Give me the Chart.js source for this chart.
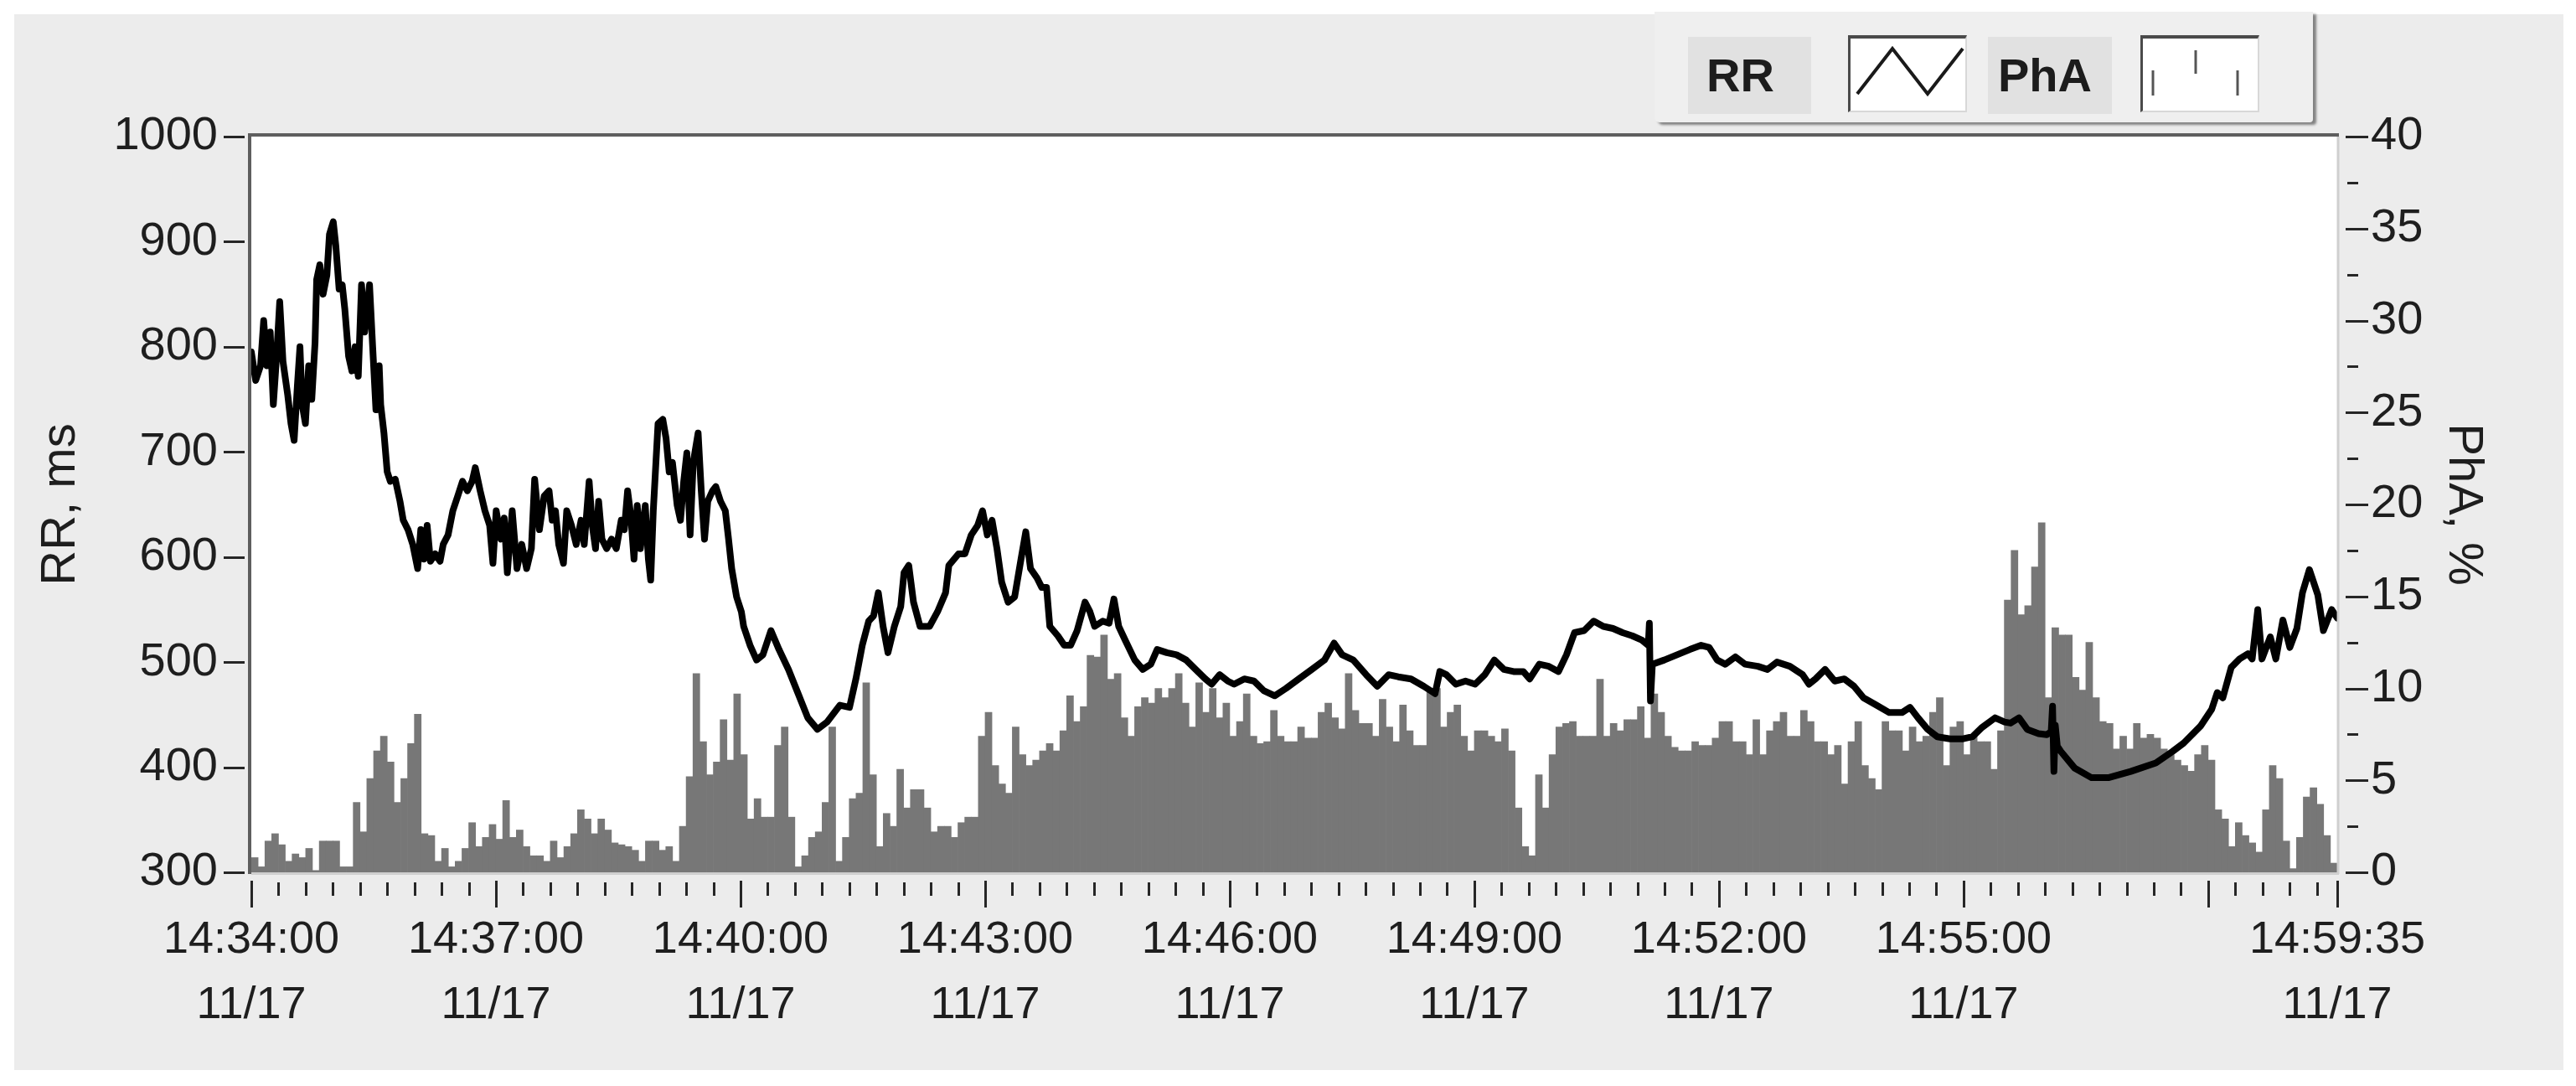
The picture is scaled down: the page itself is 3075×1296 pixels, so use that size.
<!DOCTYPE html>
<html>
<head>
<meta charset="utf-8">
<script src="https://cdn.jsdelivr.net/npm/chart.js@4.4.1/dist/chart.umd.min.js"></script>
<style>
  html, body { margin:0; padding:0; background:#ffffff; }
  #wrap { position:relative; width:3075px; height:1296px; overflow:hidden; }
  #panel { position:absolute; left:17px; top:17px; width:3043px; height:1260px; background:#ececec; }
  #c { position:absolute; left:0; top:0; }
  #legend { position:absolute; left:1975px; top:14px; width:786px; height:132px; background:#efefef;
            box-shadow: 4px 3px 3px rgba(0,0,0,0.45); border-radius:0 0 4px 6px; }
  .lab { position:absolute; top:30px; height:92px; background:#e1e1e1; color:#1c1c1c;
         font: 600 56px 'Liberation Sans',Arial,sans-serif; line-height:92px; }
  .icon { position:absolute; top:28px; width:142px; height:92px; background:#ffffff;
          border-top:4px solid #4a4a4a; border-left:3px solid #4a4a4a; border-bottom:2px solid #d8d8d8; border-right:2px solid #d8d8d8; box-sizing:border-box; }
  .icon svg { position:absolute; left:0; top:0; }
</style>
</head>
<body>
<div id="wrap">
  <div id="panel"></div>
  <canvas id="c" width="3075" height="1296"></canvas>
  <div id="legend">
    <div class="lab" style="left:40px;width:147px;"><span style="position:absolute;left:22px;">RR</span></div>
    <div class="icon" style="left:231px;">
      <svg width="142" height="92"><polyline points="8,66 50,12 92,66 134,12" fill="none" stroke="#1a1a1a" stroke-width="4"/></svg>
    </div>
    <div class="lab" style="left:398px;width:148px;"><span style="position:absolute;left:12px;">PhA</span></div>
    <div class="icon" style="left:580px;">
      <svg width="142" height="92"><g stroke="#555" stroke-width="3"><line x1="12" y1="38" x2="12" y2="68"/><line x1="63" y1="14" x2="63" y2="42"/><line x1="113" y1="38" x2="113" y2="68"/></g></svg>
    </div>
  </div>
</div>
<script>
// ---------------- DATA ----------------
// RR interval line: seconds after 14:34:00 and value in ms
const rrSeconds = [0,3.2,6.8,9.1,11.5,13.9,16.2,18.6,20.9,23.3,26.8,29.2,31.5,33.9,35.8,37.4,39.8,42.2,44.5,46.9,48.1,50.4,52.8,55.6,57.5,60.3,62.2,64.6,66.9,68.8,71.6,74.0,76.4,78.7,81.1,83.4,87.0,89.3,91.7,94.1,95.2,97.6,100.0,102.3,105.9,109.4,111.8,115.3,118.8,122.4,124.7,127.1,129.4,131.8,135.3,138.9,141.2,144.8,148.3,151.9,155.4,159.0,162.5,164.8,168.4,171.9,175.4,177.8,180.2,183.7,186.1,188.4,192.0,195.5,199.0,202.6,206.1,208.5,212.0,215.5,219.1,221.4,223.8,226.2,229.7,232.1,235.6,239.1,242.7,245.0,248.6,250.9,253.3,255.6,258.0,261.5,265.1,268.6,272.2,274.5,276.9,279.2,281.6,284.0,286.3,289.9,292.2,293.9,295.8,299.3,302.8,305.2,307.5,309.9,313.4,315.8,318.2,320.5,322.9,325.2,328.8,331.1,333.5,335.9,339.4,341.8,345.3,348.8,351.2,353.5,357.1,360.6,362.3,367.0,371.8,376.5,382.4,388.3,395.3,402.4,409.5,416.6,423.7,433.1,440.2,444.9,449.6,454.3,457.9,461.4,464.9,468.5,473.2,477.9,480.3,483.8,487.3,492.1,499.1,505.0,510.9,513.3,520.4,525.1,529.8,534.5,538.1,541.6,545.1,548.7,552.2,556.9,561.7,566.4,569.9,573.4,578.2,581.7,585.2,587.6,593.5,598.2,602.9,607.7,613.5,617.1,620.6,626.5,631.2,634.8,638.3,643.0,650.1,656.0,661.9,666.6,673.7,680.8,687.9,694.9,702.0,706.7,712.6,718.5,723.2,730.7,737.8,744.9,753.1,761.4,770.8,780.3,789.7,796.8,802.7,810.9,820.4,828.6,836.9,844.0,853.4,862.8,871.1,874.6,879.4,886.4,893.5,900.6,907.7,914.7,921.8,928.9,936.0,940.7,947.8,954.8,961.9,967.8,973.7,980.8,987.9,994.9,1002.0,1009.1,1016.2,1023.3,1028.0,1028.8,1029.6,1031.0,1039.8,1049.2,1058.6,1066.9,1072.8,1078.7,1084.6,1092.1,1099.2,1108.6,1115.7,1122.7,1132.2,1141.6,1146.3,1151.1,1158.1,1165.2,1172.3,1179.4,1186.4,1195.9,1205.3,1214.7,1220.6,1226.5,1233.6,1240.7,1250.1,1259.6,1266.6,1273.7,1283.2,1290.2,1294.6,1300.8,1306.9,1315.2,1321.3,1324.5,1325.5,1326.5,1327.5,1329.0,1331.6,1341.9,1354.2,1366.5,1383.0,1401.5,1413.8,1422.0,1434.3,1442.6,1446.7,1450.8,1457.0,1463.1,1469.3,1472.4,1476.5,1479.6,1485.7,1489.8,1495.0,1500.1,1505.3,1509.4,1514.5,1520.7,1524.8,1530.9,1535.0];
const rrValues = [795,768,782,825,782,814,745,791,843,786,754,727,711,763,800,745,727,782,750,804,864,878,850,868,907,919,896,855,859,836,791,777,800,772,859,814,859,800,740,782,745,718,681,672,674,653,635,626,612,589,626,598,630,596,603,596,612,621,644,658,672,663,672,685,663,644,630,594,644,617,637,585,644,589,612,589,608,674,626,658,663,635,644,612,594,644,630,612,635,612,672,630,608,653,617,608,617,608,635,626,663,640,598,649,608,649,598,578,644,727,731,713,681,690,649,635,672,699,621,690,718,663,617,653,663,667,653,644,617,589,562,548,534,516,502,507,530,512,493,470,447,436,443,459,457,484,516,539,544,566,534,509,534,553,585,592,557,534,534,548,566,592,603,603,621,630,644,621,635,608,576,557,562,598,624,589,580,571,571,534,525,516,516,530,557,548,534,539,537,560,534,521,502,493,498,512,509,507,502,493,484,479,488,482,479,484,482,473,468,475,484,493,502,518,507,502,488,477,488,486,484,477,470,491,488,479,482,479,488,502,493,491,491,484,498,496,491,507,528,530,539,534,532,528,525,521,516,537,463,498,502,507,512,516,514,502,498,505,498,496,493,500,496,488,479,484,493,482,484,477,466,459,452,452,457,447,436,429,427,427,429,438,447,443,442,447,436,432,431,434,458,396,440,420,415,399,390,390,396,404,415,423,439,455,471,466,495,503,508,503,550,503,524,503,540,514,532,566,588,564,530,550,542];

// PhA bars, one value (%) per 5-second bin starting at 14:34:00
const phaBinSeconds = 5;
const phaValues = [0.8,0.3,1.7,2.1,1.5,0.6,1.0,0.8,1.3,0.1,1.7,1.7,1.7,0.3,0.3,3.8,2.2,5.1,6.6,7.4,6.0,3.8,5.1,7.0,8.6,2.1,2.0,0.6,1.3,0.3,0.6,1.3,2.7,1.4,1.9,2.6,1.8,3.9,1.9,2.3,1.4,0.9,0.9,0.6,1.7,0.8,1.4,2.1,3.4,2.9,2.1,2.9,2.3,1.6,1.5,1.4,1.2,0.6,1.7,1.7,1.2,1.4,0.6,2.5,5.2,10.8,7.1,5.3,6.0,8.3,6.1,9.7,6.4,2.9,4.0,3.0,3.0,6.9,7.9,3.0,0.3,0.9,1.9,2.2,3.8,7.9,0.6,1.9,4.0,4.3,10.3,5.3,1.4,3.2,2.5,5.6,3.5,4.5,4.5,3.5,2.2,2.5,2.5,1.9,2.7,3.0,3.0,7.4,8.7,5.8,4.8,4.3,7.9,6.4,5.8,6.1,6.6,7.0,6.6,7.7,9.6,8.2,9.0,11.8,11.7,12.9,10.5,10.8,8.4,7.4,9.0,9.5,9.2,10.0,9.5,10.0,10.8,9.2,7.9,10.3,8.7,10.0,8.4,9.2,7.4,8.2,9.7,7.4,7.0,7.1,8.8,7.4,7.1,7.1,7.9,7.3,7.3,8.7,9.2,8.4,7.8,10.8,8.8,8.1,8.1,7.4,9.4,7.9,7.1,9.1,7.7,6.9,6.9,10.0,10.0,7.9,8.7,9.1,7.4,6.6,7.7,7.7,7.4,7.1,7.8,6.6,3.5,1.4,0.9,5.3,3.5,6.4,7.9,8.1,8.2,7.4,7.4,7.4,10.5,7.4,8.1,7.7,8.3,8.3,9.0,7.3,9.7,8.7,7.4,6.8,6.6,6.6,7.1,6.9,6.9,7.3,8.2,8.2,7.1,7.1,6.4,8.3,6.4,7.7,8.2,8.7,7.4,7.4,8.8,8.2,7.1,7.1,6.4,6.9,4.8,7.1,8.2,5.8,5.1,4.5,8.2,7.7,7.7,6.6,7.9,7.1,7.4,8.7,9.5,5.8,7.9,8.2,6.4,7.4,7.1,7.1,5.6,7.7,14.8,17.5,14.0,14.5,16.6,19.0,9.5,13.3,12.9,12.9,10.6,9.9,12.5,9.5,8.2,8.1,6.7,7.4,6.7,8.1,7.3,7.5,7.3,6.7,6.4,6.1,5.8,5.5,6.4,6.9,6.1,3.4,2.9,1.4,2.7,2.0,1.6,1.1,3.4,5.8,5.1,1.7,0.2,1.9,4.1,4.6,3.7,2.0,0.5];

// Axis ticks
const xTickSeconds = [0,180,360,540,720,900,1080,1260,1440,1535];
const xTickTimes   = ['14:34:00','14:37:00','14:40:00','14:43:00','14:46:00','14:49:00','14:52:00','14:55:00','','14:59:35'];
const xTickDates   = ['11/17','11/17','11/17','11/17','11/17','11/17','11/17','11/17','','11/17'];
const rrTicks  = [300,400,500,600,700,800,900,1000];
const phaTicks = [0,5,10,15,20,25,30,35,40];

// ---------------- CHART ----------------
const REG = "'Liberation Sans',Arial,sans-serif";
const TXT = '#1e1e1e';

const framePlugin = {
  id: 'frame',
  beforeDraw(chart) {
    const a = chart.chartArea, ctx = chart.ctx;
    ctx.save();
    ctx.fillStyle = '#ffffff';
    ctx.fillRect(a.left, a.top, a.right - a.left, a.bottom - a.top);
    ctx.restore();
  },
  afterDatasetsDraw(chart) {
    const a = chart.chartArea, ctx = chart.ctx;
    const sx = chart.scales.x, sy = chart.scales.y, sy1 = chart.scales.y1;
    ctx.save();
    ctx.lineCap = 'butt';
    ctx.strokeStyle = '#cfcfcf'; ctx.lineWidth = 3;
    ctx.beginPath(); ctx.moveTo(a.right + 1, a.top); ctx.lineTo(a.right + 1, a.bottom + 2);
    ctx.moveTo(a.left, a.bottom + 1.5); ctx.lineTo(a.right + 2, a.bottom + 1.5); ctx.stroke();
    ctx.strokeStyle = '#5e5e5e'; ctx.lineWidth = 4;
    ctx.beginPath(); ctx.moveTo(a.left - 2, a.bottom + 2); ctx.lineTo(a.left - 2, a.top - 2); ctx.lineTo(a.right + 2, a.top - 2); ctx.stroke();
    ctx.strokeStyle = '#262626'; ctx.lineWidth = 3;
    ctx.beginPath();
    rrTicks.forEach(v => { const y = Math.round(sy.getPixelForValue(v)) + 0.5; ctx.moveTo(a.left - 33, y); ctx.lineTo(a.left - 8, y); });
    for (let v = 0; v <= 40; v += 2.5) {
      const y = Math.round(sy1.getPixelForValue(v)) + 0.5;
      const major = phaTicks.includes(v);
      ctx.moveTo(a.right + (major ? 10 : 12), y); ctx.lineTo(a.right + (major ? 37 : 25), y);
    }
    for (let s = 0; s <= sx.max; s += 20) {
      if (xTickSeconds.includes(s)) continue;
      const x = Math.round(sx.getPixelForValue(s)) + 0.5;
      ctx.moveTo(x, a.bottom + 12); ctx.lineTo(x, a.bottom + 28);
    }
    xTickSeconds.forEach(s => { const x = Math.round(sx.getPixelForValue(s)) + 0.5; ctx.moveTo(x, a.bottom + 10); ctx.lineTo(x, a.bottom + 42); });
    ctx.stroke();
    ctx.restore();
  }
};

new Chart(document.getElementById('c').getContext('2d'), {
  type: 'line',
  data: {
    datasets: [
      {
        type: 'line', label: 'RR', yAxisID: 'y', order: 0,
        data: rrSeconds.map((t, i) => ({ x: t, y: rrValues[i] })),
        borderColor: '#000000', borderWidth: 8, pointRadius: 0, tension: 0,
        borderJoinStyle: 'round', borderCapStyle: 'round', fill: false
      },
      {
        type: 'bar', label: 'PhA', yAxisID: 'y1', order: 1,
        data: phaValues.map((v, i) => ({ x: i * phaBinSeconds + phaBinSeconds / 2, y: v })),
        backgroundColor: '#777777', borderWidth: 0, barPercentage: 1, categoryPercentage: 1
      }
    ]
  },
  options: {
    responsive: false, animation: false, devicePixelRatio: 1,
    layout: { padding: { left: 0, right: 0, top: 163, bottom: 0 } },
    plugins: { legend: { display: false }, tooltip: { enabled: false }, title: { display: false } },
    scales: {
      x: {
        type: 'linear', position: 'bottom', min: 0, max: 1535, offset: false,
        afterBuildTicks: s => { s.ticks = xTickSeconds.map(v => ({ value: v })); },
        afterFit: s => { s.height = 255; s.paddingLeft = 0; s.paddingRight = 0; },
        grid: { display: false, drawTicks: false }, border: { display: false },
        ticks: {
          autoSkip: false, maxRotation: 0, minRotation: 0, padding: 42, color: TXT,
          font: { family: REG, size: 54, lineHeight: 1.45 },
          callback: (v, i) => xTickTimes[i] ? [xTickTimes[i], xTickDates[i]] : ''
        }
      },
      y: {
        type: 'linear', position: 'left', min: 300, max: 1000,
        afterBuildTicks: s => { s.ticks = rrTicks.map(v => ({ value: v })); },
        afterFit: s => { s.width = 300; },
        grid: { display: false, drawTicks: false }, border: { display: false },
        ticks: { padding: 40, color: TXT, font: { family: REG, size: 56 }, callback: v => String(v) },
        title: { display: true, text: 'RR, ms', color: TXT, font: { family: REG, size: 58, lineHeight: 1.2 }, padding: { top: 38, bottom: 0 } }
      },
      y1: {
        type: 'linear', position: 'right', min: 0, max: 40,
        afterBuildTicks: s => { s.ticks = phaTicks.map(v => ({ value: v })); },
        afterFit: s => { s.width = 285; },
        grid: { display: false, drawTicks: false }, border: { display: false },
        ticks: { padding: 40, color: TXT, font: { family: REG, size: 56 }, callback: v => String(v) },
        title: { display: true, text: 'PhA, %', color: TXT, font: { family: REG, size: 58, lineHeight: 1.2 }, padding: { top: 100, bottom: 0 } }
      }
    }
  },
  plugins: [framePlugin]
});
</script>
</body>
</html>
